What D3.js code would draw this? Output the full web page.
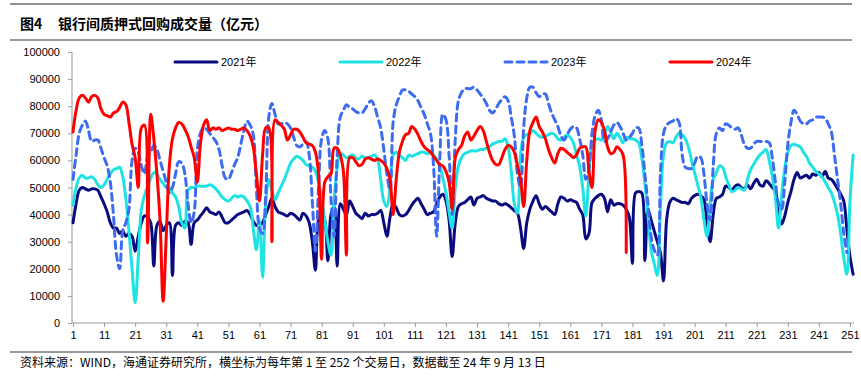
<!DOCTYPE html>
<html>
<head>
<meta charset="utf-8">
<script src="https://cdn.jsdelivr.net/npm/d3@7"></script>
<style>
  body { margin: 0; background: #fff; }
  svg { display: block; }
  .tick text { font-family: "Liberation Sans", Arial, sans-serif; font-size: 11px; fill: #000; }
</style>
</head>
<body>
<svg width="861" height="387"></svg>
<script>
// values in 千亿 (x1000 = 亿元), trading day 1..n
var s2021 = [37,44,49,50,49.5,49,49.5,49.5,49,46.5,
  44,41,37,35,35,33,34,32,33,32,
  26.5,32,37,39.5,39,37,21,36,37.5,34,
  36,37,17.5,36,37,36,37.5,37,29,37,
  38,39.5,41,42.5,41,40.5,40,41,39,37,
  37,38,39,40,40.5,41,41.5,40,37.5,36,
  36,37,40,43,46,43,41,40.5,40,39.5,
  40.5,40,39,38,40.5,39.5,37,30,19.5,38,
  40,38,23,40,43,21,44,42,40,45,
  43,40.5,39.5,38.5,40.5,39.5,40,40,40.5,41.5,
  37,32,39,44,42.5,40,39.5,40,41.5,43.5,
  45,46,44,42,40,40.5,41,44,46.5,47.5,
  45,38,24.5,37,43,44,44.5,45.5,46.5,43.5,
  46,46.5,47,46,45.5,45,45,44,43.5,44,
  43.5,42.5,41.5,40.5,35,27.5,37,42,45,47,
  44,42,43,42,41,40,44,46.5,46,45,
  45.5,45,44.5,42,40,31,33,44.5,46,47,
  47.5,46,41,45.5,43.5,44,44,43.5,42,39,
  22,48,48.5,48,23,42,38,34,30,26,
  15.5,38,44.5,46,45.5,45,44.5,44.5,44,46,
  47,47.5,47,45.5,37,30,40,46,46.5,47.5,
  50.5,50,49,50.5,51,50,49.5,51,49.5,51.5,
  53,51,50.5,52.5,51.5,50,48.5,41,36.5,39.5,
  44.5,48.5,53,55.5,53.5,54,54.5,53.5,55,54.5,
  55.5,54,56,53.5,53,51.5,49.5,47.5,45,34.5,
  24.5,18];

var s2022 = [43.5,50,53.5,54.5,53.5,53.5,54,53,51,50,
  51,53,55,56.5,57,57.5,54,46,34,20,
  7.5,24,42,47,50.5,53.5,55.5,55,53,51.5,
  50,50,48,46.5,43,37,35,49,50,50,
  50.5,50.5,50.5,50.5,51,50.5,49.5,48,46.5,45.5,
  45,46,47,46.5,47,46.5,45,43,35,27,
  38,17,44,53,49,45.5,48,50.5,53,56,
  59,60.5,61.5,61,60,58.5,58,57.5,56,52,
  46,38,30,25,45,57,62.5,62,61,61.5,
  62,61,60.5,61.5,61,61,61.5,62,60.5,53,
  45,43,50,62,63,62,61,60,62,61.5,
  62,62.5,63,63,62.5,63,62,60.5,58,53.5,
  48,41,35,50,58,61,62.5,63,63.5,63.5,
  63.5,64,64,64.5,65,66,66.5,67,67,68,
  65,56,44,40.5,62,68.5,69.5,70,71,70,
  69,68.5,69,69.5,70,69.5,68,67.5,68.5,69.5,
  68.5,66.5,62,58,50,39.5,55,66,67.5,68,
  67.5,69,72.5,70.5,68,70,68.5,66.5,68.5,68,
  68,67.5,66.5,61,51.5,40,27,22,17.5,42,
  62,66.5,67,66.5,68.5,70,69.5,68,65,60,
  55.5,51,46.5,38,32,44,53,55.5,58,57.5,
  54,51,48.5,49,50,49.5,49,53,56.5,58.5,
  60.5,62,63,64,60,54,46.5,35,47,57,
  63,65.5,66,65.5,65,63,61.5,59,57.5,56,
  55,54,52,50,48,44.5,40,33,24,18,
  45,62];

var s2023 = [53,62,70,73,74.5,71,67,67.5,67.5,64.5,
  61,58,52,40,25,20,34,37,42,60,
  64.5,63,58,55,61.5,63,65.5,64,60,56,
  52,48,50,55,59.5,59,55,44,37,41,
  64,70,72,71.5,70,68.5,67,64,58,53.5,
  53,55.5,58.5,61,66,71,74.5,73,69.5,50,
  35,33,47,76,81,77,73.5,73.5,74,73.5,
  72,68.5,65.5,65,66,67,62,45,26.5,50,
  68,71,68,46,32,62,76,78.5,80.5,79.5,
  79,78,77.5,77.5,79,81,82,80,76,72,
  64,55,49,74,80.5,83.5,86,86,85.5,84.5,
  83.5,82,79.5,77,73.5,70,58,32,60,77,
  75,62,40,68,82,85,86.5,86.5,86.5,87,
  86,84.5,83,81,78.5,77.5,79,81,82.5,83.5,
  82,76,69,55,50,72,83,87,87,85,
  83.5,84.5,84.5,81,77.5,75,72.5,69,67.5,69.5,
  71.5,72.5,72,68,62,53,57,70,76.5,78.5,
  75,67,68,70.5,73,74,72.5,70,67.5,68.5,
  70,72,72,66,55,44,32,27,25,55,
  70,73,74,74.5,75.5,74,62,57.5,57,57,
  59,61.5,61,55,44,38,58,70,72,71,
  73.5,73,72,71.5,72,69.5,66,64.5,64.5,66,
  67,67,67,67,66.5,61,52,44,42,52,
  66,74,78.5,77,74.5,73.5,73.5,74.5,75,76,
  76,76,75.5,73.5,70.5,62,53,44,33,26];

var s2024 = [70.5,78.5,83,84,83,81.5,83.5,84,83,79,
  77,76.5,76,77.5,78,79.5,81.5,80.5,74,66,
  61,50,72,73,29.5,77,68,55,38,8,
  32,58,68,72,74,73.5,71.5,69,65,61,
  52,66,73,75,71,72,71.5,72,71,71.5,
  72,71.5,71.5,71,71.5,72,71,69,65,55,
  45,62,72,72,30,75,74,73,71.5,67.5,
  69.5,71.5,71.5,70.5,68.5,66.5,66,65.5,63,55,
  23.5,52,54,55,64.5,64.5,62,56,25,61,
  61,59.5,58,58.5,60.5,61,60.5,60,60.5,60,
  59,57,53,40,53,63,67,69.5,70,72.5,
  71.5,69.5,67,65,64,63,61.5,60,58.5,58,
  56,52,42,61,64,65.5,69,70.5,67.5,69,
  71,72.5,71,67,63,60,58.5,58.5,61,64,
  65.5,65,63,58,53,43,60,71,74,76,
  72.5,70.5,68,64,61,59,62.5,64.5,64,63,
  62,61,62,64.5,65,65,56,50,71,75,
  74,71,65,62.5,63,65,64,62,26];

var seriesNames = ["2021年", "2022年", "2023年", "2024年"];
var seriesData = [s2021, s2022, s2023, s2024];
var colors = ["#0b0b80", "#1fe3e3", "#3d6cf0", "#ff0000"];
var dashes = [null, null, "7,5", null];

var yTicks = d3.range(0, 100001, 10000);
var xTicks = d3.range(1, 252, 10);

var svg = d3.select("svg");
var cjk = "'Noto Sans CJK SC', sans-serif";

// frame lines and text
svg.append("line").attr("x1", 10).attr("x2", 852).attr("y1", 4).attr("y2", 4)
  .attr("stroke", "#222").attr("stroke-width", 1);
var title = svg.append("text").attr("y", 29)
  .style("font-family", cjk).style("font-size", "14px").style("font-weight", "bold");
title.append("tspan").attr("x", 20).text("图4");
title.append("tspan").attr("x", 58).text("银行间质押式回购成交量（亿元）");
svg.append("line").attr("x1", 10).attr("x2", 852).attr("y1", 40).attr("y2", 40)
  .attr("stroke", "#999").attr("stroke-width", 2);
svg.append("line").attr("x1", 10).attr("x2", 852).attr("y1", 352).attr("y2", 352)
  .attr("stroke", "#999").attr("stroke-width", 2);
svg.append("text").attr("x", 20).attr("y", 367)
  .style("font-family", cjk).style("font-size", "12px")
  .text("资料来源：WIND，海通证券研究所，横坐标为每年第 1 至 252 个交易日，数据截至 24 年 9 月 13 日");

var x = d3.scaleLinear().domain([1, 251]).range([73, 850]);
var y = d3.scaleLinear().domain([0, 100000]).range([323, 52]);

var yAxis = svg.append("g").attr("transform", "translate(72,0)")
  .call(d3.axisLeft(y).tickValues(yTicks).tickSize(4).tickPadding(8).tickFormat(d3.format("d")));
yAxis.select(".domain").remove();
yAxis.selectAll(".tick line").attr("stroke", "#999");
svg.append("line").attr("x1", 72).attr("x2", 72).attr("y1", y(100000)).attr("y2", y(0)).attr("stroke", "#999");

var xAxis = svg.append("g").attr("transform", "translate(0,323)")
  .call(d3.axisBottom(x).tickValues(xTicks).tickSize(4).tickPadding(4));
xAxis.select(".domain").remove();
xAxis.selectAll(".tick line").attr("stroke", "#999");
svg.append("line").attr("x1", 72).attr("x2", 854).attr("y1", 323).attr("y2", 323).attr("stroke", "#999");

var line = d3.line()
  .x(function(d, i) { return x(i + 1); })
  .y(function(d) { return y(d * 1000); })
  .curve(d3.curveCatmullRom.alpha(0.5));

seriesData.forEach(function(s, k) {
  svg.append("path").datum(s)
    .attr("d", line)
    .attr("fill", "none")
    .attr("stroke", colors[k])
    .attr("stroke-width", 3)
    .attr("stroke-linejoin", "round")
    .attr("stroke-linecap", "round")
    .attr("stroke-dasharray", dashes[k]);
});

// legend
var legend = svg.selectAll(".legend").data(seriesNames).enter()
  .append("g").attr("class", "legend")
  .attr("transform", function(d, i) { return "translate(" + (175 + i * 165) + ",62)"; });
legend.append("line").attr("x1", 0).attr("x2", 42).attr("y1", 0).attr("y2", 0)
  .attr("stroke", function(d, i) { return colors[i]; })
  .attr("stroke-width", 3)
  .attr("stroke-linecap", "round")
  .attr("stroke-dasharray", function(d, i) { return dashes[i]; });
legend.append("text").attr("x", 46).attr("y", 4)
  .style("font-family", "'Liberation Sans', 'Noto Sans CJK SC', sans-serif").style("font-size", "11px")
  .text(function(d) { return d; });
</script>
</body>
</html>
